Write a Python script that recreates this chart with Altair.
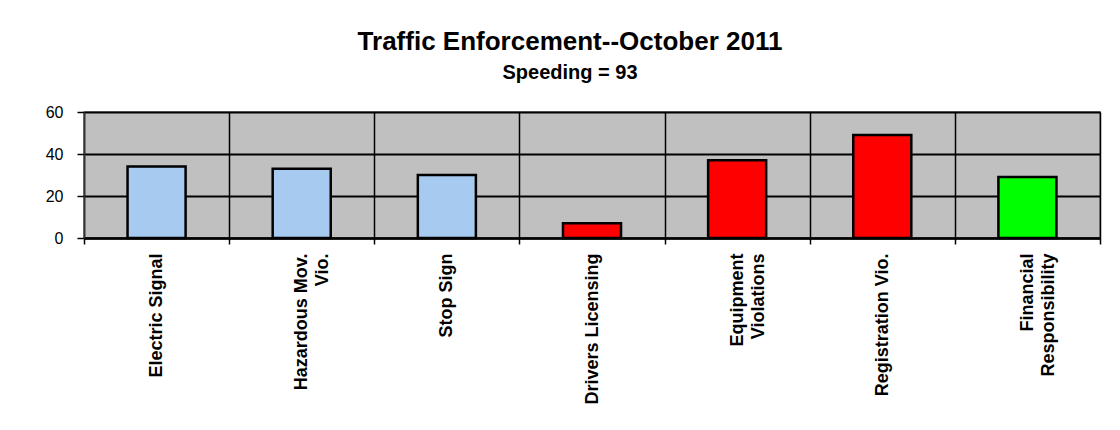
import altair as alt
import pandas as pd

categories = ["Electric Signal", "Hazardous Mov.\nVio.", "Stop Sign", "Drivers Licensing",
              "Equipment\nViolations", "Registration Vio.", "Financial\nResponsibility"]
values = [34, 33, 30, 7, 37, 49, 29]
colors = ["#A6CAF0", "#A6CAF0", "#A6CAF0", "#FF0000", "#FF0000", "#FF0000", "#00FF00"]
y_ticks = [0, 20, 40, 60]
title_text = "Traffic Enforcement--October 2011"
subtitle_text = "Speeding = 93"

df = pd.DataFrame({"category": categories, "value": values, "color": colors})

FONT = "Liberation Sans"

chart = alt.Chart(df).mark_bar(stroke="black", strokeWidth=2.5, width={"band": 0.4}).encode(
    x=alt.X("category:N", sort=categories,
            scale=alt.Scale(paddingInner=0, paddingOuter=0),
            axis=alt.Axis(title=None, labelAngle=-90, labelFont=FONT, labelFontSize=18,
                          labelFontWeight="bold", labelColor="black", labelPadding=9,
                          labelExpr="split(datum.label, '\\n')", labelLineHeight=21,
                          tickBand="extent", tickColor="black", tickSize=6, tickWidth=1.5,
                          grid=True, gridColor="black", gridWidth=1.5, gridOpacity=1,
                          domainColor="black", domainWidth=2.5)),
    y=alt.Y("value:Q", scale=alt.Scale(domain=[0, 60]),
            axis=alt.Axis(title=None, values=y_ticks, labelFont=FONT, labelFontSize=16,
                          labelColor="black", labelPadding=14, tickSize=7, tickColor="black",
                          tickWidth=1.5, grid=True, gridColor="black", gridWidth=2,
                          gridOpacity=1, domainColor="#333333", domainWidth=1.5)),
    color=alt.Color("color:N", scale=None),
).properties(
    width=1016,
    height=126,
    title=alt.TitleParams(text=title_text, subtitle=subtitle_text,
                          font=FONT, fontSize=26, fontWeight="bold", color="black",
                          subtitleFont=FONT, subtitleFontSize=20, subtitleFontWeight="bold",
                          subtitleColor="black", subtitlePadding=8, offset=21,
                          anchor="middle", frame="group", dx=-22),
    autosize=alt.AutoSizeParams(type="none"),
    padding={"left": 76, "top": 104, "right": 10, "bottom": 180},
    background="white",
).configure_view(
    fill="#C0C0C0", stroke="#808080", strokeWidth=1.5
)

chart.save("out.html", embed_options={"renderer": "svg", "actions": False})
